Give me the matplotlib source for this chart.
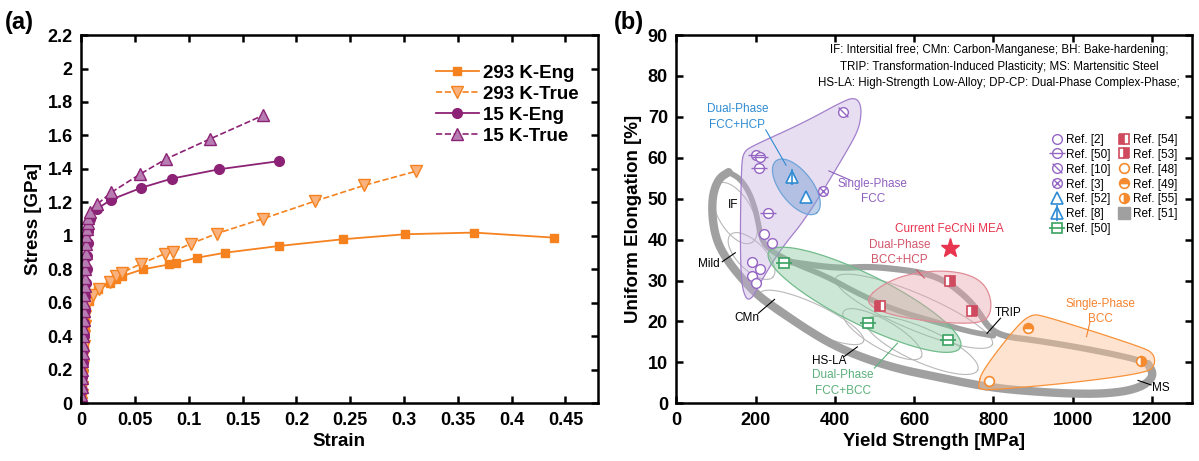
import numpy as np
import matplotlib
matplotlib.use('Agg')
import matplotlib.pyplot as plt
from matplotlib.lines import Line2D

plt.rcParams['font.family'] = ['Liberation Sans', 'DejaVu Sans']

# ---------------- panel (a): stress-strain data ----------------
eng293_x = [0, 0.0004, 0.0008, 0.0012, 0.0016, 0.002, 0.0024, 0.0028, 0.0032, 0.0036, 0.004, 0.0075,
            0.016, 0.027, 0.032, 0.038, 0.057, 0.082, 0.088, 0.108, 0.134, 0.184, 0.243, 0.301, 0.365, 0.439]
eng293_y = [0, 0.05, 0.10, 0.16, 0.22, 0.28, 0.34, 0.40, 0.46, 0.52, 0.57, 0.61,
            0.68, 0.72, 0.74, 0.76, 0.80, 0.83, 0.84, 0.87, 0.90, 0.94, 0.98, 1.01, 1.02, 0.99]
true293_x = [0, 0.0004, 0.0008, 0.0012, 0.0016, 0.002, 0.0024, 0.0028, 0.0032, 0.0036, 0.004, 0.0075,
             0.011, 0.017, 0.027, 0.032, 0.038, 0.056, 0.078, 0.085, 0.102, 0.126, 0.169, 0.217, 0.263, 0.311]
true293_y = [0, 0.05, 0.10, 0.16, 0.22, 0.28, 0.34, 0.40, 0.46, 0.52, 0.57, 0.61,
             0.646, 0.682, 0.726, 0.76, 0.78, 0.835, 0.895, 0.905, 0.954, 1.014, 1.103, 1.207, 1.302, 1.386]
eng15_x = [0, 0.0005, 0.001, 0.0015, 0.002, 0.0025, 0.003, 0.0035, 0.004, 0.0045, 0.005, 0.0055, 0.006,
           0.0068, 0.0078, 0.015, 0.028, 0.056, 0.084, 0.128, 0.184]
eng15_y = [0, 0.08, 0.16, 0.24, 0.32, 0.40, 0.48, 0.56, 0.64, 0.72, 0.80, 0.88, 0.96,
           1.03, 1.10, 1.163, 1.217, 1.288, 1.342, 1.398, 1.447]
true15_x = [0.0, 0.0003, 0.0006, 0.0008, 0.0010, 0.0012, 0.0014, 0.0016, 0.0018, 0.0020, 0.0022, 0.0024,
            0.0026, 0.0028, 0.0031, 0.0033, 0.0036, 0.0039, 0.0042, 0.0045, 0.0049, 0.0054, 0.0060, 0.0068,
            0.0078, 0.015, 0.028, 0.055, 0.079, 0.120, 0.169]
true15_y = [0.0, 0.05, 0.10, 0.15, 0.20, 0.25, 0.30, 0.35, 0.40, 0.45, 0.50, 0.55,
            0.60, 0.65, 0.70, 0.75, 0.80, 0.85, 0.90, 0.95, 1.00, 1.04, 1.08, 1.11,
            1.14, 1.19, 1.26, 1.37, 1.46, 1.58, 1.72]

# ---------------- panel (b): yield strength vs uniform elongation ----------------
ref2_x, ref2_y = [192, 212, 190, 202, 221, 241], [34.6, 32.8, 31.1, 29.5, 41.5, 39.3]
ref50p_x, ref50p_y = [202, 212, 209, 231], [60.7, 60.1, 57.6, 46.4]
ref10_x, ref10_y = [421], [71.1]
ref3_x, ref3_y = [369], [52.0]
ref52_x, ref52_y = [327], [50.5]
ref8_x, ref8_y = [291], [55.4]
ref50g_x, ref50g_y = [271, 483, 686], [34.4, 19.7, 15.5]
ref54_x, ref54_y = [515], [23.8]
ref53_x, ref53_y = [691, 745], [30.0, 22.6]
ref48_x, ref48_y = [789], [5.5]
ref49_x, ref49_y = [888], [18.5]
ref55_x, ref55_y = [1172], [10.3]
mea_x, mea_y = [691], [37.9]

# region outlines (MPa, %)
fcc_x = [164, 166, 172, 190, 320, 428, 452, 464, 467, 460, 434, 330, 262, 215, 197, 186, 176, 166, 162, 162]
fcc_y = [55.0, 59.5, 61.5, 62.8, 68.5, 74.2, 74.6, 73.3, 70.8, 67.0, 62.2, 45.5, 37.5, 30.0, 26.6, 25.4, 25.6,
         28.5, 35.0, 46.0]
bcchcp_x = [478, 520, 580, 660, 730, 775, 795, 792, 770, 720, 640, 560, 500]
bcchcp_y = [25.5, 29.0, 31.5, 32.5, 31.8, 29.5, 25.5, 21.5, 19.8, 19.5, 20.0, 21.2, 23.0]
bcc_x = [762, 772, 860, 895, 925, 1180, 1205, 1208, 1190, 1000, 800, 765]
bcc_y = [4.5, 8.0, 19.0, 21.7, 21.5, 13.6, 12.0, 9.5, 7.5, 5.0, 3.3, 3.4]
# steel bands, Ref. [51]
band1_x = [132, 108, 93, 90, 96, 110, 136, 170, 210, 262, 330, 400, 480, 565, 650, 740, 817, 900, 985,
           1069, 1140, 1185, 1205, 1190]
band1_y = [56.5, 55.0, 51.5, 47.0, 42.0, 38.0, 34.0, 30.0, 26.0, 22.5, 18.0, 14.0, 10.8, 8.3, 6.6, 4.8,
           3.6, 2.9, 2.4, 2.3, 3.0, 4.6, 7.0, 9.6]
band2_x = [132, 160, 182, 198, 207, 215, 235, 290, 380, 455, 547, 665, 740, 800]
band2_y = [56.5, 55.0, 52.0, 48.0, 44.0, 40.0, 37.5, 34.5, 31.0, 27.0, 22.9, 19.6, 17.5, 16.5]
band3_x = [290, 404, 481, 539, 626, 683, 731, 760, 789, 828, 900, 1026, 1152, 1190]
band3_y = [34.5, 33.0, 33.4, 33.0, 31.9, 29.7, 26.0, 22.8, 18.3, 16.3, 15.5, 13.5, 11.0, 9.6]


def chaikin(x, y, n=3, closed=True):
    p = np.column_stack([x, y]).astype(float)
    for _ in range(n):
        q = np.roll(p, -1, axis=0) if closed else p[1:]
        a = p if closed else p[:-1]
        new = np.empty((2 * len(a), 2))
        new[0::2] = 0.75 * a + 0.25 * q
        new[1::2] = 0.25 * a + 0.75 * q
        if not closed:
            new = np.vstack([p[:1], new, p[-1:]])
        p = new
    return p[:, 0], p[:, 1]


def ellipse(ax, cx, cy, a, b, ang):
    # a, b in pixels, rotated ellipse converted back into data units
    o = ax.transData.transform((0, 0))
    sx = ax.transData.transform((1, 0))[0] - o[0]
    sy = ax.transData.transform((0, 1))[1] - o[1]
    t = np.linspace(0, 2 * np.pi, 200)
    th = np.deg2rad(ang)
    px = a * np.cos(t) * np.cos(th) - b * np.sin(t) * np.sin(th)
    py = a * np.cos(t) * np.sin(th) + b * np.sin(t) * np.cos(th)
    return cx + px / sx, cy + py / sy


def style(ax):
    for s in ax.spines.values():
        s.set_linewidth(1.8)
    ax.tick_params(direction='in', length=5, width=1.8, top=True, right=True, pad=6)


fig = plt.figure(figsize=(11.99, 4.61), dpi=100)
ax1 = fig.add_axes([0.0677, 0.1251, 0.4308, 0.7989])
ax2 = fig.add_axes([0.5640, 0.1251, 0.4298, 0.7989])

# ---- (a)
orange = '#F5821F'
purple = '#8C2275'
ax1.plot(eng293_x, eng293_y, '-s', color=orange, lw=1.3, ms=6, label='293 K-Eng')
ax1.plot(true293_x, true293_y, '--v', color=orange, lw=1.2, ms=8, mfc='#F9B27E', mec=orange,
         label='293 K-True')
ax1.plot(eng15_x, eng15_y, '-o', color=purple, lw=1.3, ms=7, label='15 K-Eng')
ax1.plot(true15_x, true15_y, '--^', color=purple, lw=1.2, ms=8, mfc='#B77DB3', mec=purple,
         label='15 K-True')
ax1.set_xlim(0, 0.48)
ax1.set_ylim(0, 2.2)
xt = np.round(np.arange(0, 0.451, 0.05), 2)
yt = np.round(np.arange(0, 2.21, 0.2), 1)
ax1.set_xticks(xt, [f'{v:g}' for v in xt], fontsize=13, fontweight='bold')
ax1.set_yticks(yt, [f'{v:g}' for v in yt], fontsize=13, fontweight='bold')
ax1.set_xlabel('Strain', fontsize=13.5, fontweight='bold', labelpad=3)
ax1.set_ylabel('Stress [GPa]', fontsize=13.5, fontweight='bold', labelpad=4)
style(ax1)
ax1.legend(loc='upper right', bbox_to_anchor=(0.995, 0.965), frameon=False, handlelength=2.3,
           labelspacing=0.2, handletextpad=0.2, prop={'weight': 'bold', 'size': 13.5})

# ---- (b)
ax2.set_xlim(0, 1300)
ax2.set_ylim(0, 90)
xt2 = np.arange(0, 1201, 200)
yt2 = np.arange(0, 91, 10)
ax2.set_xticks(xt2, [str(v) for v in xt2], fontsize=13, fontweight='bold')
ax2.set_yticks(yt2, [str(v) for v in yt2], fontsize=13, fontweight='bold')
ax2.set_xlabel('Yield Strength [MPa]', fontsize=13.5, fontweight='bold', labelpad=3)
ax2.set_ylabel('Uniform Elongation [%]', fontsize=13.5, fontweight='bold', labelpad=4)
style(ax2)

gray = '#a0a0a0'
thin = '#b8b8b8'
# thin outlines of steel classes
for (cx, cy, a, b, ang) in [(148, 46.5, 34, 17, -60), (190, 36, 30, 14, -45), (342, 21, 57, 14, -25),
                            (520, 16.9, 45, 14, -30), (620, 14.2, 61, 17, -24), (600, 22.5, 85, 18, -23)]:
    ex, ey = ellipse(ax2, cx, cy, a, b, ang)
    ax2.plot(ex, ey, color=thin, lw=0.8, zorder=1)
for bx, by, lw in [(band1_x, band1_y, 6), (band2_x, band2_y, 4), (band3_x, band3_y, 4.5)]:
    sx_, sy_ = chaikin(bx, by, 3, closed=False)
    ax2.plot(sx_, sy_, color=gray, lw=lw, solid_capstyle='round', zorder=2)

# phase regions
px, py = chaikin(fcc_x, fcc_y)
ax2.fill(px, py, facecolor='#C7AEE0', alpha=0.4, edgecolor='none', zorder=3)
ax2.fill(px, py, facecolor='none', edgecolor='#A27FCB', lw=0.9, zorder=3)
ex, ey = ellipse(ax2, 303, 52.9, 33, 16, -52)
ax2.fill(ex, ey, facecolor='#7FA3D6', alpha=0.5, edgecolor='none', zorder=3)
ax2.plot(ex, ey, color='#6FA4D8', lw=0.9, zorder=3)
ex, ey = ellipse(ax2, 475, 25.3, 107, 25, -26.4)
ax2.fill(ex, ey, facecolor='#86C89C', alpha=0.42, edgecolor='none', zorder=3)
ax2.plot(ex, ey, color='#72BB8C', lw=0.9, zorder=3)
px, py = chaikin(bcchcp_x, bcchcp_y)
ax2.fill(px, py, facecolor='#E6A3AB', alpha=0.42, edgecolor='none', zorder=3)
ax2.plot(np.append(px, px[0]), np.append(py, py[0]), color='#E08C97', lw=0.9, zorder=3)
px, py = chaikin(bcc_x, bcc_y)
ax2.fill(px, py, facecolor='#FBC397', alpha=0.45, edgecolor='none', zorder=3)
ax2.plot(np.append(px, px[0]), np.append(py, py[0]), color='#F7923A', lw=0.9, zorder=3)

# markers
pc, bc, gc, rc, oc = '#9566C4', '#2F8BD3', '#3BA262', '#CF4A5E', '#F58A2E'
slash = [(-0.7, 0.7), (0.7, -0.7)]
kw = dict(ls='none', zorder=5)
h2 = ax2.plot(ref2_x, ref2_y, 'o', ms=7, mfc='white', mec=pc, mew=1.0, **kw)[0]
h50a = ax2.plot(ref50p_x, ref50p_y, 'o', ms=7, mfc='white', mec=pc, mew=1.0, **kw)[0]
h50b = ax2.plot(ref50p_x, ref50p_y, '_', ms=11, mec=pc, mew=1.0, **kw)[0]
h10a = ax2.plot(ref10_x, ref10_y, 'o', ms=7, mfc='white', mec=pc, mew=1.0, **kw)[0]
h10b = ax2.plot(ref10_x, ref10_y, marker=slash, ms=7, mec=pc, mew=1.0, **kw)[0]
h3a = ax2.plot(ref3_x, ref3_y, 'o', ms=7, mfc='white', mec=pc, mew=1.0, **kw)[0]
h3b = ax2.plot(ref3_x, ref3_y, 'x', ms=5.5, mec=pc, mew=1.0, **kw)[0]
h52 = ax2.plot(ref52_x, ref52_y, '^', ms=8, mfc='white', mec=bc, mew=1.2, **kw)[0]
h8a = ax2.plot(ref8_x, ref8_y, '^', ms=8, mfc='white', mec=bc, mew=1.2, **kw)[0]
h8b = ax2.plot(ref8_x, ref8_y, '|', ms=12, mec=bc, mew=1.2, **kw)[0]
h50c = ax2.plot(ref50g_x, ref50g_y, 's', ms=7, mfc='white', mec=gc, mew=1.2, **kw)[0]
h50d = ax2.plot(ref50g_x, ref50g_y, '_', ms=11, mec=gc, mew=1.2, **kw)[0]
h54 = ax2.plot(ref54_x, ref54_y, 's', ms=7, fillstyle='left', mfc=rc, mfcalt='white', mec=rc, mew=1.2,
               **kw)[0]
h53 = ax2.plot(ref53_x, ref53_y, 's', ms=7, fillstyle='right', mfc=rc, mfcalt='white', mec=rc, mew=1.2,
               **kw)[0]
h48 = ax2.plot(ref48_x, ref48_y, 'o', ms=7, mfc='white', mec=oc, mew=1.2, **kw)[0]
h49 = ax2.plot(ref49_x, ref49_y, 'o', ms=7, fillstyle='top', mfc=oc, mfcalt='white', mec=oc, mew=1.2,
               **kw)[0]
h55 = ax2.plot(ref55_x, ref55_y, 'o', ms=7, fillstyle='right', mfc=oc, mfcalt='white', mec=oc, mew=1.2,
               **kw)[0]
ax2.plot(mea_x, mea_y, '*', ms=14, color='#E8344E', mec='#E8344E', **kw)
h51 = Line2D([], [], marker='s', ls='none', ms=8, color=gray, mec=gray)

handles = [h2, (h50a, h50b), (h10a, h10b), (h3a, h3b), h52, (h8a, h8b), (h50c, h50d),
           h54, h53, h48, h49, h55, h51]
labels = ['Ref. [2]', 'Ref. [50]', 'Ref. [10]', 'Ref. [3]', 'Ref. [52]', 'Ref. [8]', 'Ref. [50]',
          'Ref. [54]', 'Ref. [53]', 'Ref. [48]', 'Ref. [49]', 'Ref. [55]', 'Ref. [51]']
ax2.legend(handles, labels, ncol=2, loc='upper left', bbox_to_anchor=(0.718, 0.745), frameon=False,
           fontsize=8.5, handlelength=1.0, handletextpad=0.25, columnspacing=0.7, labelspacing=0.25,
           borderaxespad=0)

ax2.text(815, 82.3, 'IF: Intersitial free; CMn: Carbon-Manganese; BH: Bake-hardening;\n'
         'TRIP: Transformation-Induced Plasticity; MS: Martensitic Steel\n'
         'HS-LA: High-Strength Low-Alloy; DP-CP: Dual-Phase Complex-Phase;',
         ha='center', va='center', fontsize=8.3, linespacing=1.45, zorder=6)


def label(txt, tx, ty, x0, y0, x1, y1, color, ha='center'):
    ax2.text(tx, ty, txt, color=color, fontsize=8.5, ha=ha, va='center', linespacing=1.4, zorder=6)
    if x0 is not None:
        ax2.plot([x0, x1], [y0, y1], color=color, lw=0.8, zorder=6)


label('IF', 144, 48.5, None, None, None, None, 'black')
label('Mild', 82, 34.0, 116, 34.6, 149, 36.8, 'black')
label('CMn', 178, 20.8, 207, 22.0, 248, 25.4, 'black')
label('HS-LA', 385, 10.4, 423, 11.4, 457, 13.8, 'black')
label('TRIP', 838, 22.0, 818, 20.8, 784, 17.1, 'black')
label('MS', 1223, 3.7, 1198, 4.5, 1165, 5.6, 'black')
label('Single-Phase\nFCC', 496, 51.8, 438, 54.6, 385, 56.8, '#9060C0')
label('Dual-Phase\nFCC+HCP', 154, 70.0, 226, 66.8, 277, 58.2, '#2F8BD3')
label('Current FeCrNi MEA', 688, 42.6, None, None, None, None, '#E8344E')
label('Dual-Phase\nBCC+HCP', 563, 36.9, 606, 32.6, 626, 30.6, '#D2566A')
label('Single-Phase\nBCC', 1071, 22.4, 1044, 20.0, 1035, 16.3, '#F5822E')
label('Dual-Phase\nFCC+BCC', 421, 4.9, 500, 8.6, 558, 14.7, '#5CB07B')

fig.text(0.004, 0.952, '(a)', fontsize=17, fontweight='bold', va='center')
fig.text(0.512, 0.952, '(b)', fontsize=17, fontweight='bold', va='center')

fig.savefig('out.png', dpi=100)
